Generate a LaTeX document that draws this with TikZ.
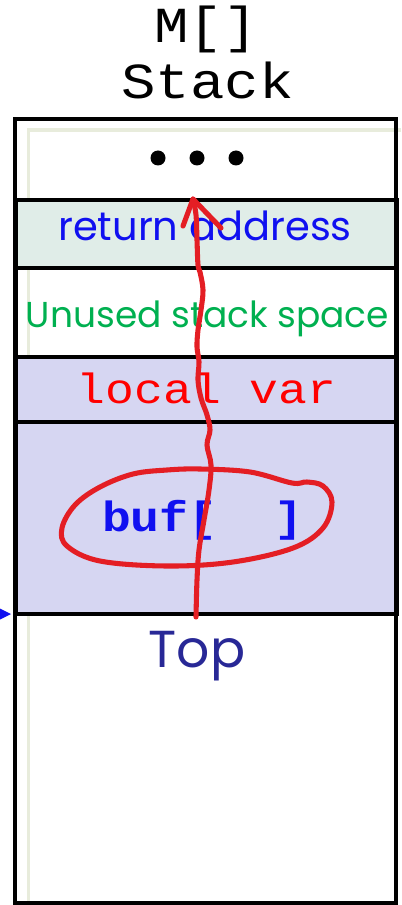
\documentclass[tikz,border=0pt]{standalone}
\usepackage{fontspec}
\setmainfont{Poppins}
\newfontfamily\mono{Liberation Mono}
\definecolor{penred}{RGB}{228,30,36}
\definecolor{retfill}{RGB}{224,237,232}
\definecolor{lav}{RGB}{214,214,242}
\definecolor{txtblue}{RGB}{16,16,240}
\definecolor{txtgreen}{RGB}{0,176,80}
\definecolor{topblue}{RGB}{40,40,150}
\definecolor{pale}{RGB}{232,236,220}
% monospace text, a little flattened like a thin typewriter face
\newcommand{\typew}[2]{\scalebox{1}[0.88]{\mono\fontsize{#1}{#1}\selectfont #2}}
\begin{document}
\begin{tikzpicture}[x=0.75pt,y=-0.75pt,
  rowbox/.style={draw=black,line width=3pt,minimum width=381*0.75pt,inner sep=0pt,outer sep=0pt},
  label/.style={anchor=base,inner sep=0pt},
  pen/.style={draw=penred,line width=3.8pt,line cap=round,line join=round}]
\useasboundingbox (0,0) rectangle (401,905);
% stack frame and its pale inner rule
\draw[pale,line width=2.5pt] (401,130) -- (28.5,130) -- (28.5,903);
% rows of the stack
\node[rowbox,fill=retfill,minimum height=68*0.75pt] (ret) at (206.5,234) {};
\node[rowbox,minimum height=89*0.75pt] (unused) at (206.5,312.5) {};
\node[rowbox,fill=lav,minimum height=65*0.75pt] (loc) at (206.5,389.5) {};
\node[rowbox,fill=lav,minimum height=192*0.75pt] (buf) at (206.5,518) {};
\draw[line width=3pt] (15,119) rectangle (396,903);
% headings
\node[label] (mh) at (206,43) {\typew{43}{M[]}};
\node[label] (sh) at (207.5,99) {\typew{43}{Stack}};
% ellipsis in the top row
\foreach \x in {158,197,236}
  \fill (\x,158) circle (7.5);
% labels of the rows
\node[label,text=txtblue] (tret) at (205,241) {\fontsize{30}{30}\selectfont return address};
\node[label,text=txtgreen] (tun) at (207.5,327) {\fontsize{27}{27}\selectfont Unused stack space};
\node[label,text=red] (tloc) at (206.5,403) {\typew{36}{local var}};
\node[label,text=txtblue] (tbuf) at (203,531) {\typew{36}{\bfseries buf[~~]}};
\node[label,text=topblue] (ttop) at (197,667) {\fontsize{39}{39}\selectfont Top};
% stack pointer tip
\fill[txtblue] (0,608.5) -- (11,614) -- (0,619.5) -- cycle;
% pen marks: overflow path and circled buffer
\draw[pen] plot[smooth,tension=0.6] coordinates {(196,617) (197,580) (199,550) (204,520) (209,490) (211,465) (207,445) (210,430) (207,415) (201,398) (198,380) (199,362) (197,347) (198,330) (201,310) (203,290) (200,272) (198,265) (197,240) (196,215) (193,199)};
\draw[pen] (183,226) -- (193,199) -- (221,228);
\draw[pen] plot[smooth cycle,tension=0.6] coordinates {(292,483) (250,472) (200,469) (167,470) (133,474) (100,487) (75,505) (62,528) (67,546) (100,561) (167,566) (233,562) (293,548) (323,528) (332,502) (323,486) (307,482)};
\end{tikzpicture}
\end{document}
